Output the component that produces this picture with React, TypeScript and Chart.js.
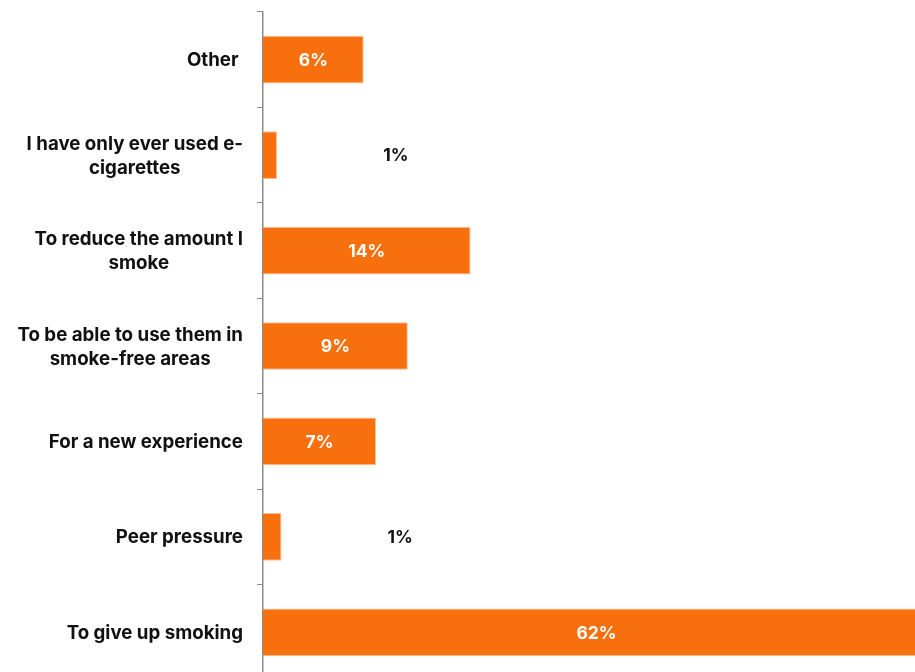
import React, { useEffect, useRef } from "react";
import { Chart, registerables } from "chart.js";

Chart.register(...registerables);

const categories: string[][] = [
  ["Other "],
  ["I have only ever used e-", "cigarettes"],
  ["To reduce the amount I", "smoke"],
  ["To be able to use them in", "smoke-free areas"],
  ["For a new experience"],
  ["Peer pressure"],
  ["To give up smoking"],
];
const barValues: number[] = [6.26, 0.88, 12.9, 9.0, 7.03, 1.15, 62];
const valueLabels: string[] = ["6%", "1%", "14%", "9%", "7%", "1%", "62%"];
const axisMax = 41.45;

const FONT = "Inter, 'Noto Sans', sans-serif";
const BAR = "#F8700E";

const labelPlugin = {
  id: "customLabels",
  afterDatasetsDraw(chart: any) {
    const ctx = chart.ctx;
    const yScale = chart.scales.y;
    const area = chart.chartArea;
    const meta = chart.getDatasetMeta(0);
    ctx.save();
    ctx.font = `700 18.7px ${FONT}`;
    ctx.fillStyle = "#111111";
    ctx.textBaseline = "middle";
    ctx.textAlign = "center";
    const rightEdge = yScale.right - 20;
    const lineH = 24;
    categories.forEach((lines, i) => {
      const y = yScale.getPixelForTick(i) + 1;
      const widest = Math.max(...lines.map((l) => ctx.measureText(l).width));
      const cx = rightEdge - widest / 2;
      lines.forEach((l, j) => {
        const ly = y + (j - (lines.length - 1) / 2) * lineH;
        ctx.fillText(l, cx, ly);
      });
    });
    ctx.font = `700 17.5px ${FONT}`;
    meta.data.forEach((bar: any, i: number) => {
      const x0 = bar.base;
      const x1 = Math.min(bar.x, area.right);
      const w = x1 - x0;
      if (w > 40) {
        ctx.fillStyle = "#ffffff";
        ctx.textAlign = "center";
        ctx.fillText(valueLabels[i], (x0 + x1) / 2, bar.y + 1);
      } else {
        ctx.fillStyle = "#111111";
        ctx.textAlign = "left";
        ctx.fillText(valueLabels[i], x1 + 106, bar.y + 1);
      }
    });
    ctx.restore();
  },
};

export default function App() {
  const ref = useRef<HTMLCanvasElement>(null);
  useEffect(() => {
    if (!ref.current) return;
    const chart = new Chart(ref.current, {
      type: "bar",
      data: {
        labels: categories.map((c) => c.join(" ")),
        datasets: [
          {
            data: barValues,
            backgroundColor: BAR,
            borderColor: "#FBC29A",
            borderWidth: 1,
            barPercentage: 0.5,
            categoryPercentage: 1,
          },
        ],
      },
      options: {
        indexAxis: "y",
        responsive: false,
        maintainAspectRatio: false,
        animation: false,
        layout: { padding: { top: 4, bottom: 0, left: 0, right: 0 } },
        plugins: {
          legend: { display: false },
          tooltip: { enabled: false },
        },
        scales: {
          x: { display: false, min: 0, max: axisMax },
          y: {
            display: true,
            afterFit: (s: any) => {
              s.width = 255;
            },
            ticks: { display: false },
            grid: {
              drawOnChartArea: false,
              drawTicks: true,
              tickLength: 6,
              color: "#8a8a8a",
              offset: true,
            },
            border: { display: true, color: "#8a8a8a", width: 1.5 },
          },
        },
      },
      plugins: [labelPlugin],
    });
    return () => chart.destroy();
  }, []);
  return (
    <div
      style={{
        position: "fixed",
        left: 0,
        top: 0,
        width: 915,
        height: 672,
        overflow: "hidden",
      }}
    >
      <canvas
        ref={ref}
        width={922}
        height={672}
        style={{ display: "block", marginLeft: 8, marginTop: 8 }}
      />
    </div>
  );
}
